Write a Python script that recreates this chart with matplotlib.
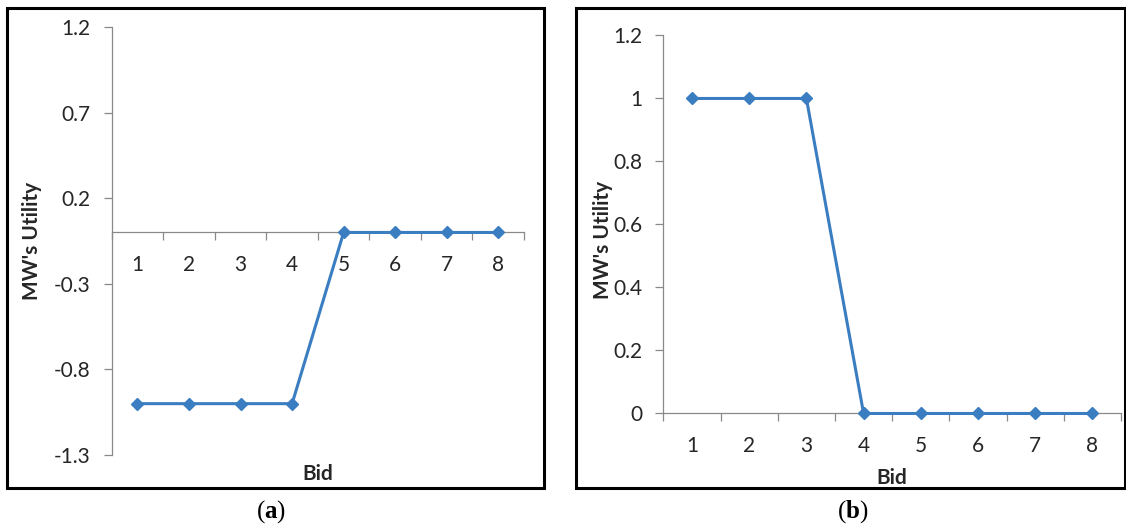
import matplotlib
matplotlib.use("Agg")
import matplotlib.pyplot as plt
from matplotlib.patches import Rectangle

plt.rcParams['font.family'] = ['Lato', 'DejaVu Sans']
plt.rcParams['mathtext.fontset'] = 'custom'
plt.rcParams['mathtext.rm'] = 'Liberation Serif'
plt.rcParams['mathtext.bf'] = 'Liberation Serif:bold'

# --- data ---
bids = [1, 2, 3, 4, 5, 6, 7, 8]
utility_a = [-1, -1, -1, -1, 0, 0, 0, 0]
utility_b = [1, 1, 1, 0, 0, 0, 0, 0]

yticks_a = [-1.3, -0.8, -0.3, 0.2, 0.7, 1.2]
yticklabels_a = ["-1.3", "-0.8", "-0.3", "0.2", "0.7", "1.2"]
yticks_b = [0, 0.2, 0.4, 0.6, 0.8, 1.0, 1.2]
yticklabels_b = ["0", "0.2", "0.4", "0.6", "0.8", "1", "1.2"]

line_color = '#3A7EC1'
axis_color = '#898989'
text_color = '#262626'

fig = plt.figure(figsize=(11.26, 5.27), dpi=100)

# frames around each panel
for x0, w in [(0.0062, 0.4769), (0.5115, 0.4876)]:
    fig.patches.append(Rectangle((x0, 0.074), w, 0.9108, transform=fig.transFigure,
                                 fill=False, edgecolor='black', linewidth=2.2))


def style_axes(ax, yticks, yticklabels):
    for side in ['top', 'right']:
        ax.spines[side].set_visible(False)
    for side in ['left', 'bottom']:
        ax.spines[side].set_color(axis_color)
        ax.spines[side].set_linewidth(0.9)
    ax.spines['bottom'].set_position(('data', 0))
    ax.set_xlim(0.5, 8.5)
    ax.set_xticks(bids)
    ax.set_xticklabels([str(b) for b in bids])
    ax.set_xticks([b + 0.5 for b in [0] + bids], minor=True)
    ax.tick_params(axis='x', which='major', length=0, pad=16, labelsize=15, labelcolor=text_color)
    ax.tick_params(axis='x', which='minor', length=6, width=0.9, color=axis_color, direction='out')
    ax.set_yticks(yticks)
    ax.set_yticklabels(yticklabels)
    ax.set_ylim(yticks[0], yticks[-1])
    ax.tick_params(axis='y', length=6, width=0.9, color=axis_color, pad=9,
                   labelsize=15, labelcolor=text_color)


# --- panel (a) ---
ax1 = fig.add_axes([0.0992, 0.1366, 0.3662, 0.8121])
ax1.plot(bids, utility_a, color=line_color, linewidth=2.2, marker='D', markersize=6,
         clip_on=False, zorder=3)
style_axes(ax1, yticks_a, yticklabels_a)
ax1.set_xlabel("Bid", fontsize=15, fontweight='bold', color=text_color)
ax1.xaxis.set_label_coords(0.5, -0.022)
ax1.set_ylabel("MW's Utility", fontsize=15, fontweight='bold', color=text_color)
ax1.yaxis.set_label_coords(-0.17, 0.5)

# --- panel (b) ---
ax2 = fig.add_axes([0.5892, 0.2154, 0.4063, 0.7173])
ax2.plot(bids, utility_b, color=line_color, linewidth=2.2, marker='D', markersize=6,
         clip_on=False, zorder=3)
style_axes(ax2, yticks_b, yticklabels_b)
ax2.set_xlabel("Bid", fontsize=15, fontweight='bold', color=text_color)
ax2.xaxis.set_label_coords(0.5, -0.145)
ax2.set_ylabel("MW's Utility", fontsize=15, fontweight='bold', color=text_color)
ax2.yaxis.set_label_coords(-0.111, 0.46)

# captions
fig.text(0.241, 0.030, r'$\mathrm{(}\mathbf{a}\mathrm{)}$', fontsize=18, ha='center', va='center')
fig.text(0.757, 0.030, r'$\mathrm{(}\mathbf{b}\mathrm{)}$', fontsize=18, ha='center', va='center')

fig.savefig("out.png", dpi=100)
